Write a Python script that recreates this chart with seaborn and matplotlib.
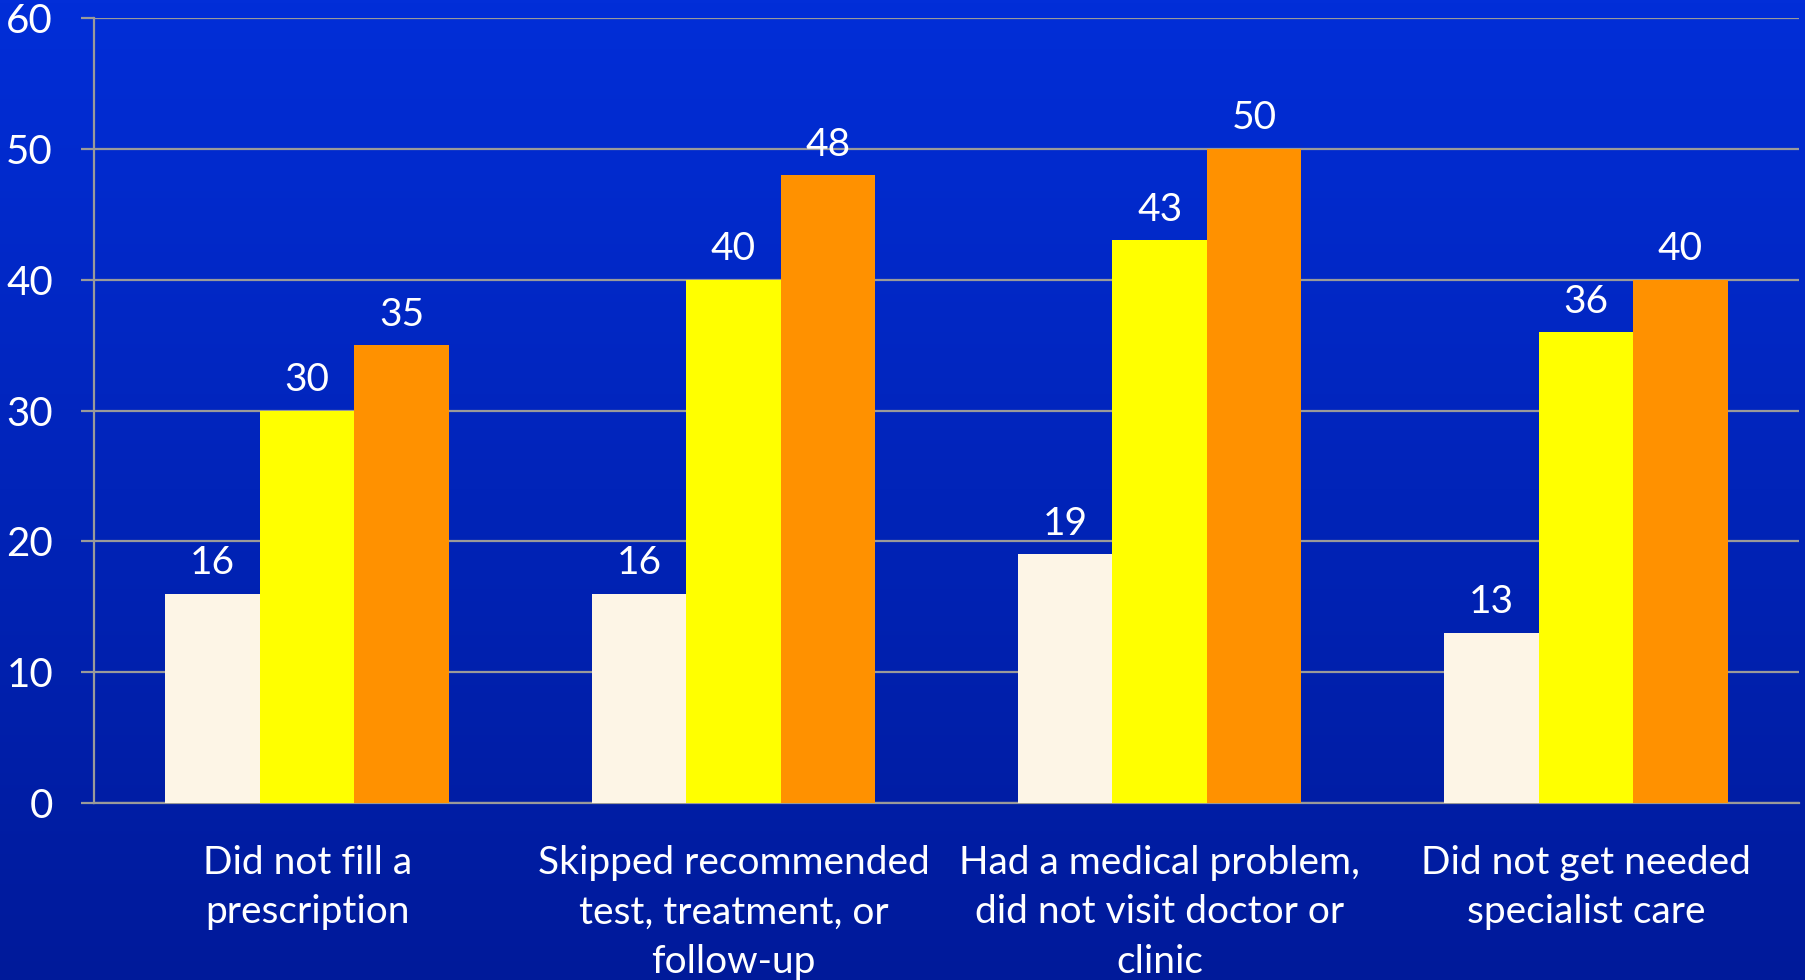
import numpy as np
import pandas as pd
import seaborn as sns
import matplotlib.pyplot as plt

# categories and values
categories = ["Did not fill a\nprescription",
              "Skipped recommended\ntest, treatment, or\nfollow-up",
              "Had a medical problem,\ndid not visit doctor or\nclinic",
              "Did not get needed\nspecialist care"]
series = ["Series 1", "Series 2", "Series 3"]
series1 = [16, 16, 19, 13]
series2 = [30, 40, 43, 36]
series3 = [35, 48, 50, 40]
colors = ["#FDF5E6", "#FFFF00", "#FF9100"]

df = pd.DataFrame({
    "category": categories * 3,
    "series": np.repeat(series, len(categories)),
    "value": series1 + series2 + series3,
})

sns.set_style("white")
plt.rcParams["font.family"] = ["Lato", "DejaVu Sans"]

fig = plt.figure(figsize=(18.06, 9.8), dpi=100)

# gradient background
bg = fig.add_axes([0, 0, 1, 1], zorder=-10)
grad = np.linspace(0, 1, 256).reshape(-1, 1)
top = np.array([0x02, 0x2E, 0xD8]) / 255
bot = np.array([0x00, 0x1A, 0x9A]) / 255
img = top + (bot - top) * grad[..., None]
bg.imshow(img, aspect="auto", extent=[0, 1, 0, 1])
bg.axis("off")

ax = fig.add_axes([94 / 1806, 1 - 803 / 980, (1799 - 94) / 1806, (803 - 18) / 980])
ax.patch.set_alpha(0)

sns.barplot(data=df, x="category", y="value", hue="series", palette=colors,
            width=0.665, gap=0, saturation=1, legend=False, ax=ax, zorder=3,
            edgecolor="none", linewidth=0)

for c in ax.containers:
    ax.bar_label(c, padding=9, color="white", fontsize=28)

ax.set_ylim(0, 60)
ax.set_yticks(range(0, 61, 10))
ax.set_xlim(-0.5, len(categories) - 0.5)
ax.set_xlabel("")
ax.set_ylabel("")

grid_c = "#9a9a9a"
ax.grid(axis="y", color=grid_c, linewidth=1.6, zorder=0)
ax.set_axisbelow(True)
for s in ["top", "right"]:
    ax.spines[s].set_visible(False)
for s in ["left", "bottom"]:
    ax.spines[s].set_color(grid_c)
    ax.spines[s].set_linewidth(1.6)

ax.set_xticks(np.arange(-0.5, len(categories)), minor=True)
ax.tick_params(axis="x", which="major", length=0, pad=30, labelsize=28,
               labelcolor="white")
ax.tick_params(axis="x", which="minor", length=9.5, width=1.6, color=grid_c,
               direction="out")
ax.tick_params(axis="y", length=9.5, width=1.6, color=grid_c, pad=20,
               labelsize=29, labelcolor="white", left=True)
for lab in ax.get_xticklabels():
    lab.set_linespacing(1.47)
    lab.set_verticalalignment("top")

fig.savefig("out.png", dpi=100)
